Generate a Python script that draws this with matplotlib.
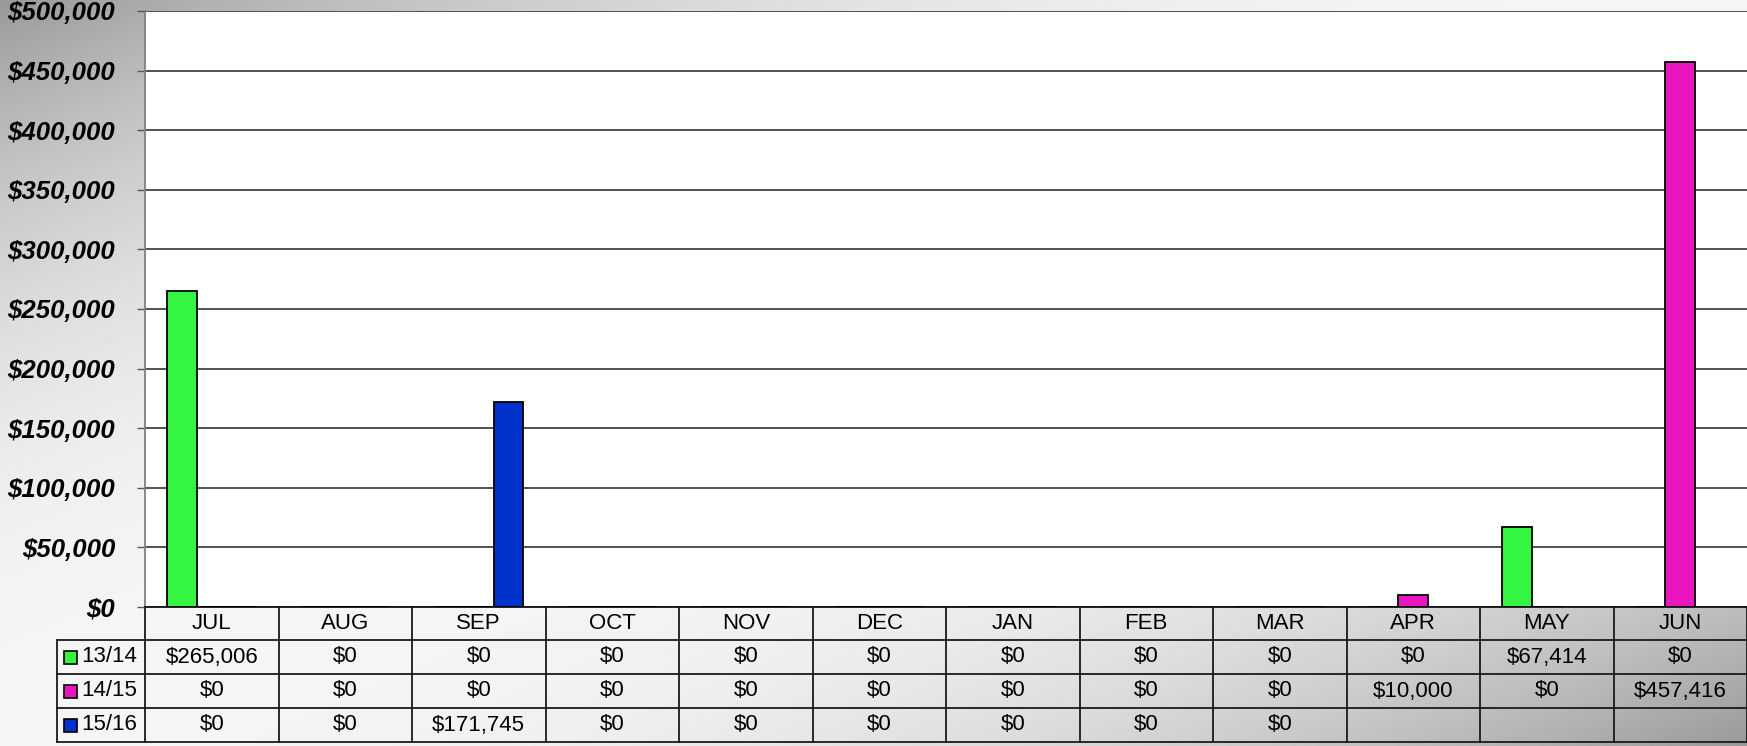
import numpy as np
import matplotlib
matplotlib.use('Agg')
import matplotlib.pyplot as plt
from matplotlib.patches import Rectangle
from matplotlib.lines import Line2D
from matplotlib.transforms import blended_transform_factory

plt.rcParams['font.family'] = ['Liberation Sans', 'DejaVu Sans']

# ---- data ----
months = ['JUL', 'AUG', 'SEP', 'OCT', 'NOV', 'DEC', 'JAN', 'FEB', 'MAR', 'APR', 'MAY', 'JUN']
series = ['13/14', '14/15', '15/16']
fy1314 = [265006, 0, 0, 0, 0, 0, 0, 0, 0, 0, 67414, 0]
fy1415 = [0, 0, 0, 0, 0, 0, 0, 0, 0, 10000, 0, 457416]
fy1516 = [0, 0, 171745, 0, 0, 0, 0, 0, 0]
colors = ['#33f542', '#e915be', '#0033cc']
yticks = list(range(0, 500001, 50000))

W, H = 1747, 746
fig = plt.figure(figsize=(W / 100, H / 100), dpi=100)

# ---- background gradient (dark top-left / bottom-right, light on the other diagonal) ----
bg = fig.add_axes([0, 0, 1, 1], zorder=0)
yy, xx = np.mgrid[0:1:H * 1j, 0:1:W * 1j]
d = np.abs(xx + yy - 1)
g = 245 - 92 * d ** 2.3
bg.imshow(g, cmap='gray', vmin=0, vmax=255, aspect='auto', interpolation='bilinear')
bg.axis('off')

# ---- plot area ----
L, T, B = 145, 11, 607
ax = fig.add_axes([L / W, 1 - B / H, 1 - L / W, (B - T) / H], zorder=1)
ax.set_facecolor('white')

w = 1 / 4.5
for k, (vals, c) in enumerate(zip([fy1314, fy1415, fy1516], colors)):
    x = np.arange(len(vals)) + (k - 1) * w
    ax.bar(x, vals, width=w, color=c, edgecolor='black', linewidth=1.3, zorder=3)

ax.set_xlim(-0.5, len(months) - 0.5)
ax.set_ylim(0, 500000)
ax.set_yticks(yticks)
ax.set_yticklabels([f'${v:,}' for v in yticks], fontsize=18.5, fontweight='bold', fontstyle='italic')
ax.tick_params(axis='y', length=6, width=1, color='#555555', pad=15.5)
ax.set_xticks([])
ax.yaxis.grid(True, color='#222222', linewidth=1.1)
ax.set_axisbelow(True)
for s in ['right', 'top']:
    ax.spines[s].set_visible(False)
ax.spines['left'].set_color('#808080')
ax.spines['left'].set_linewidth(1.3)
ax.spines['bottom'].set_color('#111111')
ax.spines['bottom'].set_linewidth(1.3)

# ---- data table below the plot ----
tr = blended_transform_factory(ax.transData, fig.transFigure)
def fy(px):
    return 1 - px / H

rows_px = [607, 640, 674, 708, 742]
lc = '#1a1a1a'
lw = 1.3
for yp in rows_px[1:]:
    fig.add_artist(Line2D([57 / W, 1], [fy(yp), fy(yp)], color=lc, lw=lw))
fig.add_artist(Line2D([57 / W, 57 / W], [fy(640), fy(742)], color=lc, lw=lw))
for i in range(len(months) + 1):
    ax.add_line(Line2D([i - 0.5, i - 0.5], [fy(607), fy(742)], transform=tr,
                       color=lc, lw=lw, clip_on=False))

fs = 16
for i, m in enumerate(months):
    ax.text(i, fy((rows_px[0] + rows_px[1]) / 2), m, transform=tr, ha='center', va='center',
            fontsize=fs, color='black')
for r, (name, vals, c) in enumerate(zip(series, [fy1314, fy1415, fy1516], colors)):
    yc = fy((rows_px[r + 1] + rows_px[r + 2]) / 2)
    for i, v in enumerate(vals):
        ax.text(i, yc, f'${v:,}', transform=tr, ha='center', va='center',
                fontsize=fs, color='black')
    fig.add_artist(Rectangle((64 / W, yc - 6.5 / H), 13 / W, 13 / H, facecolor=c,
                             edgecolor='black', linewidth=1.2))
    fig.text(81 / W, yc, name, ha='left', va='center', fontsize=fs, color='black')

fig.savefig('out.png', dpi=100)
